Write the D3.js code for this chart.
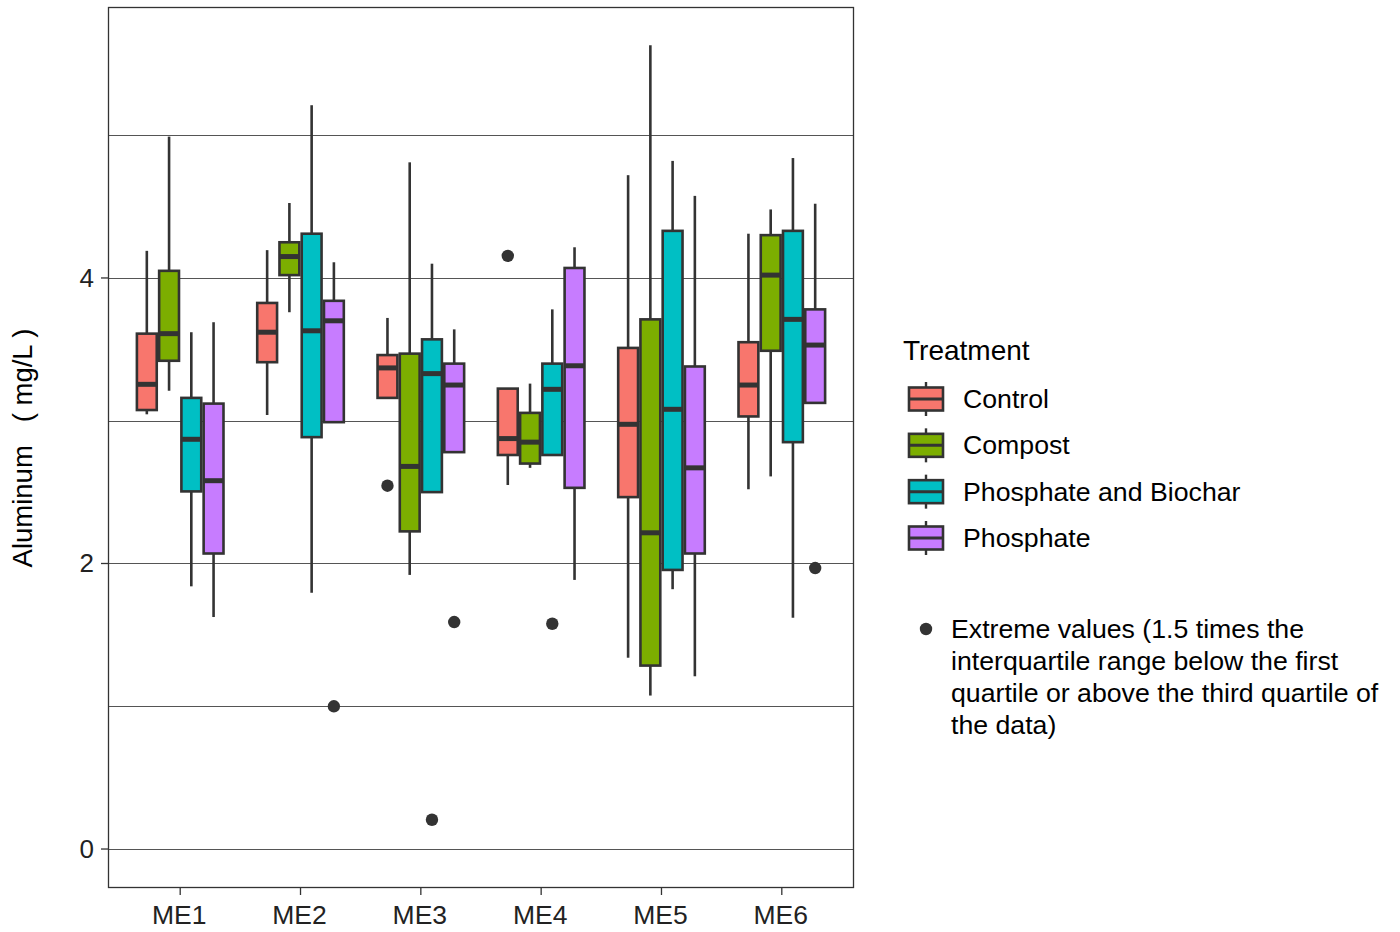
<!DOCTYPE html>
<html>
<head>
<meta charset="utf-8">
<script src="https://cdn.jsdelivr.net/npm/d3@7"></script>
<style>
  html, body { margin: 0; padding: 0; background: #fff; }
  svg { display: block; font-family: "Liberation Sans", Arial, sans-serif; }
</style>
</head>
<body>
<svg id="chart" width="1400" height="932"></svg>
<script>
// ---- data ----
const categories = ["ME1", "ME2", "ME3", "ME4", "ME5", "ME6"];
const treatments = ["Control", "Compost", "Phosphate and Biochar", "Phosphate"];
const colors = ["#F8766D", "#7CAE00", "#00BFC4", "#C77CFF"];
const yTicks = [0, 2, 4];
const yGrid = [0, 1, 2, 3, 4, 5];

// [lower whisker, Q1, median, Q3, upper whisker] per category
const controlStats = [
  [3.045, 3.075, 3.255, 3.61, 4.19],
  [3.04, 3.41, 3.62, 3.825, 4.195],
  [3.16, 3.16, 3.37, 3.46, 3.72],
  [2.55, 2.76, 2.875, 3.225, 3.225],
  [1.34, 2.465, 2.975, 3.51, 4.72],
  [2.52, 3.03, 3.25, 3.55, 4.31]
];
const compostStats = [
  [3.21, 3.42, 3.61, 4.05, 4.99],
  [3.76, 4.02, 4.15, 4.25, 4.525],
  [1.92, 2.225, 2.68, 3.47, 4.81],
  [2.67, 2.70, 2.85, 3.055, 3.26],
  [1.075, 1.285, 2.215, 3.71, 5.63],
  [2.61, 3.49, 4.02, 4.30, 4.48]
];
const biocharStats = [
  [1.84, 2.505, 2.87, 3.16, 3.62],
  [1.795, 2.885, 3.63, 4.31, 5.21],
  [2.50, 2.50, 3.33, 3.57, 4.10],
  [2.76, 2.76, 3.22, 3.40, 3.78],
  [1.82, 1.955, 3.08, 4.33, 4.82],
  [1.62, 2.85, 3.71, 4.33, 4.84]
];
const phosphateStats = [
  [1.625, 2.07, 2.58, 3.12, 3.69],
  [2.99, 2.99, 3.70, 3.84, 4.11],
  [2.78, 2.78, 3.25, 3.40, 3.64],
  [1.885, 2.53, 3.385, 4.07, 4.215],
  [1.21, 2.07, 2.67, 3.38, 4.575],
  [3.125, 3.125, 3.53, 3.78, 4.52]
];
// outliers: [category, treatment, value]
const outliers = [
  ["ME2", "Phosphate", 1.0],
  ["ME3", "Control", 2.545],
  ["ME3", "Phosphate and Biochar", 0.205],
  ["ME3", "Phosphate", 1.59],
  ["ME4", "Control", 4.155],
  ["ME4", "Phosphate and Biochar", 1.578],
  ["ME6", "Phosphate", 1.968]
];
const yTitle = "Aluminum   ( mg/L )";
const legendTitle = "Treatment";
const noteLines = [
  "Extreme values (1.5 times the",
  "interquartile range below the first",
  "quartile or above the third quartile of",
  "the data)"
];

// ---- build table ----
const allStats = [controlStats, compostStats, biocharStats, phosphateStats];
const boxes = [];
treatments.forEach((t, ti) => {
  categories.forEach((c, ci) => {
    const s = allStats[ti][ci];
    boxes.push({cat: c, trt: t, lo: s[0], q1: s[1], med: s[2], q3: s[3], hi: s[4], color: colors[ti]});
  });
});

// ---- layout ----
const panel = {left: 108, right: 854, top: 7, bottom: 888};
const svg = d3.select("#chart");
const ink = "#333333";

const x = d3.scalePoint().domain(categories).range([panel.left, panel.right]).padding(0.6);
const xInner = d3.scaleBand().domain(treatments).range([-44.5, 44.5]);
const y = d3.scaleLinear().domain([-0.273, 5.898]).range([panel.bottom, panel.top]);
const color = d3.scaleOrdinal().domain(treatments).range(colors);

// grid
svg.append("g").selectAll("line").data(yGrid).join("line")
  .attr("x1", panel.left).attr("x2", panel.right)
  .attr("y1", d => Math.round(y(d)) + 0.5).attr("y2", d => Math.round(y(d)) + 0.5)
  .attr("stroke", "#555").attr("stroke-width", 1);

// boxes
const bw = xInner.bandwidth();
const g = svg.append("g");
const bg = g.selectAll("g.box").data(boxes).join("g").attr("class", "box")
  .attr("transform", d => `translate(${x(d.cat) + xInner(d.trt) + bw / 2},0)`);

bg.append("line").attr("x1", 0).attr("x2", 0)
  .attr("y1", d => y(d.hi)).attr("y2", d => y(d.q3))
  .attr("stroke", ink).attr("stroke-width", 2.6);
bg.append("line").attr("x1", 0).attr("x2", 0)
  .attr("y1", d => y(d.q1)).attr("y2", d => y(d.lo))
  .attr("stroke", ink).attr("stroke-width", 2.6);
bg.append("rect")
  .attr("x", -bw / 2 + 1.2).attr("width", bw - 2.4)
  .attr("y", d => y(d.q3)).attr("height", d => y(d.q1) - y(d.q3))
  .attr("fill", d => d.color).attr("stroke", ink).attr("stroke-width", 2.6);
bg.append("line").attr("x1", -bw / 2 + 1.2).attr("x2", bw / 2 - 1.2)
  .attr("y1", d => y(d.med)).attr("y2", d => y(d.med))
  .attr("stroke", ink).attr("stroke-width", 5);

// outliers
svg.append("g").selectAll("circle").data(outliers).join("circle")
  .attr("cx", d => x(d[0]) + xInner(d[1]) + bw / 2)
  .attr("cy", d => y(d[2]))
  .attr("r", 6.2).attr("fill", ink);

// panel border
svg.append("rect").attr("x", panel.left + 0.5).attr("y", panel.top + 0.5)
  .attr("width", panel.right - panel.left - 1).attr("height", panel.bottom - panel.top - 1)
  .attr("fill", "none").attr("stroke", ink).attr("stroke-width", 1.3);

// y axis
const yAxis = svg.append("g");
yAxis.selectAll("line").data(yTicks).join("line")
  .attr("x1", panel.left - 7).attr("x2", panel.left)
  .attr("y1", d => y(d)).attr("y2", d => y(d))
  .attr("stroke", ink).attr("stroke-width", 1.3);
yAxis.selectAll("text").data(yTicks).join("text")
  .attr("x", panel.left - 14).attr("y", d => y(d))
  .attr("text-anchor", "end").attr("dominant-baseline", "central")
  .attr("font-size", 26).attr("fill", "#222").text(d => d);

// x axis
const xAxis = svg.append("g");
xAxis.selectAll("line").data(categories).join("line")
  .attr("x1", d => x(d)).attr("x2", d => x(d))
  .attr("y1", panel.bottom).attr("y2", panel.bottom + 7)
  .attr("stroke", ink).attr("stroke-width", 1.3);
xAxis.selectAll("text").data(categories).join("text")
  .attr("x", d => x(d) - 1).attr("y", panel.bottom + 27)
  .attr("text-anchor", "middle").attr("dominant-baseline", "central")
  .attr("font-size", 26.5).attr("fill", "#222").text(d => d);

// y title
svg.append("text")
  .attr("transform", `translate(22,448) rotate(-90)`)
  .attr("text-anchor", "middle").attr("dominant-baseline", "central")
  .attr("font-size", 27.5).attr("fill", "#000")
  .style("white-space", "pre").text(yTitle);

// legend
const leg = svg.append("g");
leg.append("text").attr("x", 903).attr("y", 350)
  .attr("dominant-baseline", "central").attr("font-size", 28).attr("fill", "#000")
  .text(legendTitle);
const keyY = d3.scalePoint().domain(treatments).range([399, 538]);
const lk = leg.selectAll("g.key").data(treatments).join("g").attr("class", "key")
  .attr("transform", d => `translate(0,${keyY(d)})`);
lk.append("line").attr("x1", 926).attr("x2", 926).attr("y1", -17).attr("y2", 17)
  .attr("stroke", ink).attr("stroke-width", 2.4);
lk.append("rect").attr("x", 909).attr("y", -11.5).attr("width", 34).attr("height", 23)
  .attr("fill", d => color(d)).attr("stroke", ink).attr("stroke-width", 2.6);
lk.append("line").attr("x1", 909).attr("x2", 943).attr("y1", 0).attr("y2", 0)
  .attr("stroke", ink).attr("stroke-width", 3);
lk.append("text").attr("x", 963).attr("y", 0)
  .attr("dominant-baseline", "central").attr("font-size", 26.7).attr("fill", "#000")
  .text(d => d);

// note
const note = svg.append("g");
note.append("circle").attr("cx", 926).attr("cy", 629).attr("r", 6.2).attr("fill", ink);
note.selectAll("text").data(noteLines).join("text")
  .attr("x", 951).attr("y", (d, i) => 629 + i * 32)
  .attr("dominant-baseline", "central").attr("font-size", 26.7).attr("fill", "#000")
  .text(d => d);
</script>
</body>
</html>
